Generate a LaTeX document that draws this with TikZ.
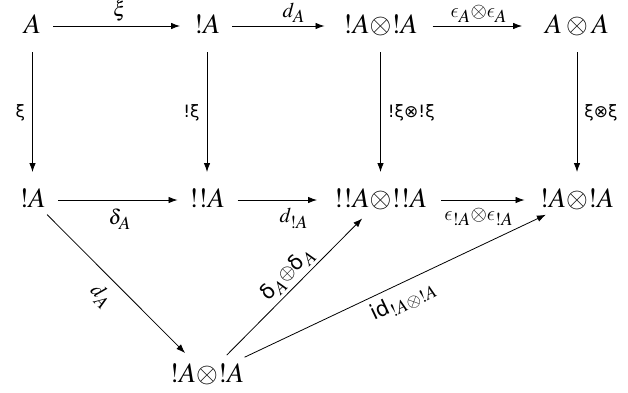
\documentclass[tikz,border=0pt]{standalone}
\usepackage{mathptmx}
\usepackage{fontspec}
\setmainfont{Liberation Serif}
\newfontfamily\sansdv{DejaVu Sans}
\DeclareSymbolFont{cmlettersx}{OML}{cmm}{m}{it}
\DeclareMathSymbol{\lunateeps}{\mathord}{cmlettersx}{"0F}
\newcommand{\sbx}[1]{_{\mbox{\fontsize{18.5}{20}\selectfont$#1$}}}
\usetikzlibrary{arrows.meta}
\begin{document}
\begin{tikzpicture}[x=1pt,y=1pt,
  obj/.style={inner sep=0pt, text height=19pt, text depth=5pt, anchor=base, font=\fontsize{28}{30}\selectfont},
  arr/.style={-{Latex[length=9pt,width=6.5pt]}, line width=0.8pt},
  lab/.style={font=\fontsize{21}{23}\selectfont, inner sep=4pt},
  slab/.style={font=\fontsize{17}{19}\selectfont, inner sep=7pt}
]
\useasboundingbox (0,0) rectangle (628,392);
% row 1
\node[obj] (a1) at (32.5,359) {$A$};
\node[obj] (a2) at (207,359) {$!A$};
\node[obj] (a3) at (380.5,359) {$!A{\otimes}!A$};
\node[obj] (a4) at (577,359) {$A \otimes A$};
% row 2
\node[obj] (b1) at (32.5,185) {$!A$};
\node[obj] (b2) at (207,185) {$!!A$};
\node[obj] (b3) at (380.5,185) {$!!A{\otimes}!!A$};
\node[obj] (b4) at (577,185) {$!A{\otimes}!A$};
% bottom
\node[obj] (c) at (207,10) {$!A{\otimes}!A$};
% horizontal
\draw[arr, shorten <=20.5pt, shorten >=27pt] (a1.center) -- node[lab, above] {$\xi$} (a2.center);
\draw[arr, shorten <=25pt, shorten >=56pt] (a2.center) -- node[lab, above, inner sep=3pt] {$d\sbx{A}$} (a3.center);
\draw[arr, shorten <=52pt, shorten >=55pt] (a3.center) -- node[lab, above, inner sep=3pt] {$\lunateeps\sbx{A}{\otimes}\lunateeps\sbx{A}$} (a4.center);
\draw[arr, shorten <=25.5pt, shorten >=29.5pt] (b1.center) -- node[lab, below, inner sep=8pt] {$\delta\sbx{A}$} (b2.center);
\draw[arr, shorten <=30.5pt, shorten >=63.5pt] (b2.center) -- node[lab, below, inner sep=8pt] {$d\sbx{!A}$} (b3.center);
\draw[arr, shorten <=60.5pt, shorten >=52.5pt] (b3.center) -- node[lab, below, inner sep=8pt] {$\lunateeps\sbx{!A}{\otimes}\lunateeps\sbx{!A}$} (b4.center);
% vertical
\draw[arr, shorten <=26pt, shorten >=28pt] (a1.center) -- node[slab, left] {\sansdv ξ} (b1.center);
\draw[arr, shorten <=26pt, shorten >=28pt] (a2.center) -- node[slab, left] {\sansdv !ξ} (b2.center);
\draw[arr, shorten <=26pt, shorten >=28pt] (a3.center) -- node[slab, right] {\sansdv !ξ⊗!ξ} (b3.center);
\draw[arr, shorten <=26pt, shorten >=28pt] (a4.center) -- node[slab, right] {\sansdv ξ⊗ξ} (b4.center);
% diagonals
\draw[arr, shorten <=20.6pt, shorten >=31pt] (b1.center) -- node[lab, pos=0.47, below, sloped, inner sep=9pt] {$d\sbx{A}$} (c.center);
\draw[arr, shorten <=28pt, shorten >=26pt] (c.center) -- node[lab, pos=0.52, above, sloped, inner sep=3pt] {{\sansdv δ}$\sbx{A}{\oplus}${\sansdv δ}$\sbx{A}$} (b3.center);
\draw[arr, shorten <=41.6pt, shorten >=34.4pt] (c.center) -- node[lab, pos=0.51, below, sloped, inner sep=6pt] {{\sansdv id}$\sbx{!A\otimes!A}$} (b4.center);
\end{tikzpicture}
\end{document}
